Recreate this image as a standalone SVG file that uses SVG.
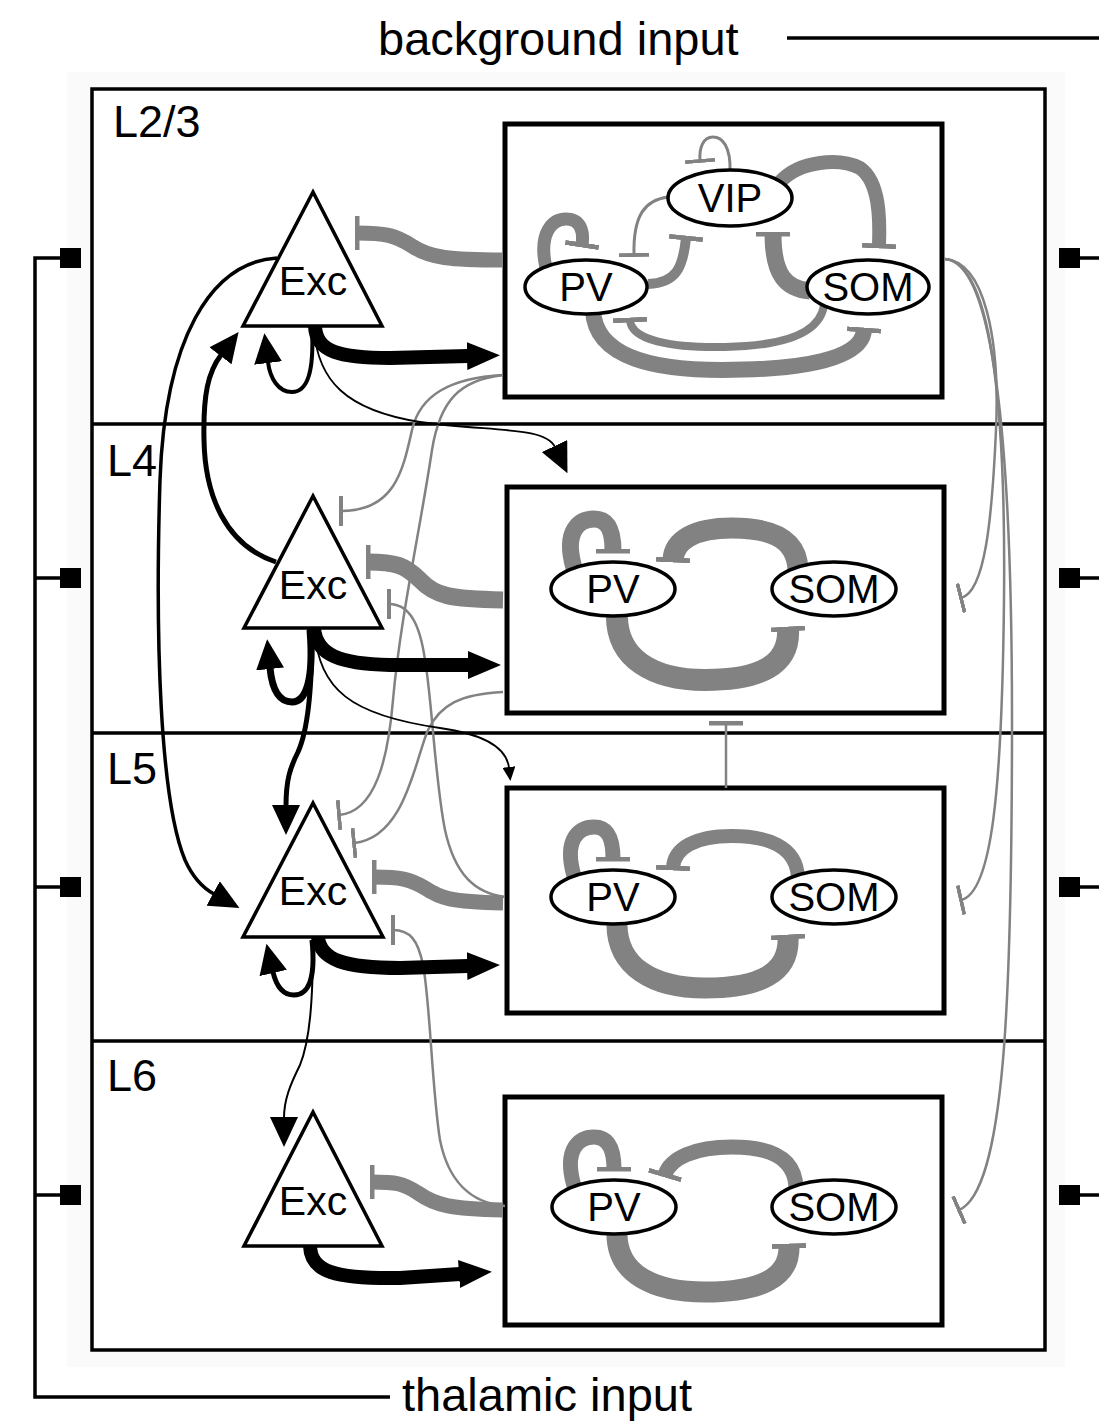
<svg xmlns="http://www.w3.org/2000/svg" width="1099" height="1423" viewBox="0 0 1099 1423">
  <style>
    .lbl{font-family:"Liberation Sans",Arial,sans-serif;fill:#000}
    .frame{fill:none;stroke:#000;stroke-width:3.5}
    .sheet{fill:#fff;stroke:#000;stroke-width:3.5}
    .box{fill:#fff;stroke:#000;stroke-width:5}
    .cell{fill:#fff;stroke:#000;stroke-width:3.5}
    .inh{fill:none;stroke:#828282}
    .exc{fill:none;stroke:#000}
    .pin{fill:#000}
  </style>
  <defs>
    <!-- excitatory arrowheads -->
    <marker id="ahL" markerUnits="userSpaceOnUse" viewBox="0 0 33 28" markerWidth="33" markerHeight="28" refX="1" refY="14" orient="auto">
      <path d="M0,0 L33,14 L0,28 z" fill="#000"/>
    </marker>
    <marker id="ahM" markerUnits="userSpaceOnUse" viewBox="0 0 30 28" markerWidth="30" markerHeight="28" refX="1" refY="14" orient="auto">
      <path d="M0,0 L30,14 L0,28 z" fill="#000"/>
    </marker>
    <marker id="ahS" markerUnits="userSpaceOnUse" viewBox="0 0 14 13" markerWidth="14" markerHeight="13" refX="1" refY="6.5" orient="auto">
      <path d="M0,0 L14,6.5 L0,13 z" fill="#000"/>
    </marker>
    <!-- inhibitory bar ends -->
    <marker id="tbL" markerUnits="userSpaceOnUse" viewBox="0 0 5 34" markerWidth="5" markerHeight="34" refX="2.5" refY="17" orient="auto">
      <rect x="0" y="0" width="5" height="34" fill="#828282"/>
    </marker>
    <marker id="tbS" markerUnits="userSpaceOnUse" viewBox="0 0 4 30" markerWidth="4" markerHeight="30" refX="2" refY="15" orient="auto">
      <rect x="0" y="0" width="4" height="30" fill="#828282"/>
    </marker>
  </defs>

  <rect x="0" y="0" width="1099" height="1423" fill="#fff"/>
  <rect x="67" y="72" width="998" height="1295" fill="#fafafa"/>

  <!-- external inputs -->
  <g id="background-input">
    <text class="lbl" x="378" y="55" font-size="47">background input</text>
    <path class="frame" d="M787 38 H1099"/>
    <path class="frame" d="M1080 258 H1099 M1080 578 H1099 M1080 887 H1099 M1080 1195 H1099"/>
    <rect class="pin" x="1059" y="248" width="21" height="20"/>
    <rect class="pin" x="1059" y="568" width="21" height="20"/>
    <rect class="pin" x="1059" y="877" width="21" height="20"/>
    <rect class="pin" x="1059" y="1185" width="21" height="20"/>
  </g>
  <g id="thalamic-input">
    <text class="lbl" x="402" y="1411" font-size="47">thalamic input</text>
    <path class="frame" d="M390 1397 H35 V258 H62 M35 578 H62 M35 887 H62 M35 1195 H62"/>
    <rect class="pin" x="60" y="248" width="21" height="20"/>
    <rect class="pin" x="60" y="568" width="21" height="20"/>
    <rect class="pin" x="60" y="877" width="21" height="20"/>
    <rect class="pin" x="60" y="1185" width="21" height="20"/>
  </g>

  <!-- column with four layers -->
  <g id="column">
    <rect class="sheet" x="92" y="89" width="953" height="1261"/>
    <path class="frame" d="M92 424 H1045 M92 733 H1045 M92 1041 H1045"/>
    <text class="lbl" x="113" y="137" font-size="45">L2/3</text>
    <text class="lbl" x="107" y="476" font-size="45">L4</text>
    <text class="lbl" x="107" y="784" font-size="45">L5</text>
    <text class="lbl" x="107" y="1091" font-size="45">L6</text>
  </g>

  <!-- inhibitory population boxes -->
  <g id="inh-L23"><rect class="box" x="505" y="124" width="437" height="273"/></g>
  <g id="inh-L4"><rect class="box" x="507" y="487" width="437" height="226"/></g>
  <g id="inh-L5"><rect class="box" x="507" y="788" width="437" height="225"/></g>
  <g id="inh-L6"><rect class="box" x="505" y="1097" width="437" height="228"/></g>

  <g id="connectors">
    <!-- L2/3 interneuron circuit -->
    <path class="inh" stroke-width="13" d="M546 268 C538 232 553 219 566 219 C581 219 584 232 582 245" marker-end="url(#tbL)"/>
    <path class="inh" stroke-width="10" d="M648 284 C676 283 683 268 686 238" marker-end="url(#tbL)"/>
    <path class="inh" stroke-width="3" d="M668 197 C645 200 633 215 634 255" marker-end="url(#tbS)"/>
    <path class="inh" stroke-width="3" d="M730 172 C731 146 722 137 713 137 C703 137 699 148 700 161" marker-end="url(#tbS)"/>
    <path class="inh" stroke-width="14" d="M780 182 C800 160 840 158 860 168 C880 182 880 220 879 246" marker-end="url(#tbL)"/>
    <path class="inh" stroke-width="17" d="M810 291 C786 289 773 275 773 234" marker-end="url(#tbL)"/>
    <path class="inh" stroke-width="16" d="M593 310 C595 360 660 370 722 370 C800 370 862 360 864 330" marker-end="url(#tbL)"/>
    <path class="inh" stroke-width="8" d="M824 305 C820 335 780 346 725 347 C670 348 631 340 630 320" marker-end="url(#tbL)"/>

    <!-- L4 interneuron circuit -->
    <path class="inh" stroke-width="17" d="M574 568 C563 530 580 519 594 519 C610 519 613 534 613 551" marker-end="url(#tbL)"/>
    <path class="inh" stroke-width="21" d="M798 570 C797 535 765 528 732 528 C695 528 674 540 673 560" marker-end="url(#tbL)"/>
    <path class="inh" stroke-width="22" d="M617 612 C615 660 655 680 705 680 C760 680 790 665 788 629" marker-end="url(#tbL)"/>

    <!-- L5 interneuron circuit -->
    <path class="inh" stroke-width="15" d="M574 876 C563 838 580 827 594 827 C610 827 613 842 613 859" marker-end="url(#tbL)"/>
    <path class="inh" stroke-width="14" d="M798 878 C797 845 765 836 732 836 C695 836 674 848 673 868" marker-end="url(#tbL)"/>
    <path class="inh" stroke-width="21" d="M617 920 C615 968 655 988 705 988 C760 988 790 973 788 937" marker-end="url(#tbL)"/>

    <!-- L6 interneuron circuit -->
    <path class="inh" stroke-width="15" d="M574 1186 C563 1148 580 1137 594 1137 C610 1137 614 1152 614 1169" marker-end="url(#tbL)"/>
    <path class="inh" stroke-width="15" d="M796 1188 C795 1155 765 1147 732 1147 C695 1147 670 1158 665 1175" marker-end="url(#tbL)"/>
    <path class="inh" stroke-width="21" d="M617 1230 C615 1275 655 1292 705 1292 C760 1292 790 1278 789 1246" marker-end="url(#tbL)"/>

    <!-- inhibition of excitatory cells within each layer -->
    <path class="inh" stroke-width="15" d="M503 260 C450 260 430 258 412 246 C395 235 385 233 357 233" marker-end="url(#tbL)"/>
    <path class="inh" stroke-width="17" d="M503 600 C450 599 435 596 420 580 C405 565 395 562 368 562" marker-end="url(#tbL)"/>
    <path class="inh" stroke-width="15" d="M503 903 C450 902 440 898 425 888 C410 879 400 877 374 877" marker-end="url(#tbL)"/>
    <path class="inh" stroke-width="15" d="M503 1210 C450 1209 435 1205 418 1193 C403 1183 395 1182 372 1182" marker-end="url(#tbL)"/>

    <!-- inhibition across layers -->
    <path class="inh" stroke-width="2.5" d="M503 375 C450 378 420 395 412 430 C403 470 395 511 341 511" marker-end="url(#tbS)"/>
    <path class="inh" stroke-width="2.5" d="M503 375 C460 380 440 400 432 450 C420 530 400 620 393 700 C388 760 375 812 339 815" marker-end="url(#tbS)"/>
    <path class="inh" stroke-width="2.5" d="M503 692 C460 694 440 705 428 730 C415 760 405 838 354 843" marker-end="url(#tbS)"/>
    <path class="inh" stroke-width="2.5" d="M505 897 C475 893 455 875 445 830 C435 780 432 700 425 660 C420 625 410 604 389 604" marker-end="url(#tbS)"/>
    <path class="inh" stroke-width="2.5" d="M505 1206 C470 1203 448 1180 440 1140 C432 1090 430 1000 423 965 C418 940 410 930 393 930" marker-end="url(#tbS)"/>
    <path class="inh" stroke-width="2.5" d="M726 788 V723" marker-end="url(#tbL)"/>
    <path class="inh" stroke-width="2.5" d="M945 259 C985 262 1000 340 996 430 C992 520 985 592 961 598" marker-end="url(#tbS)"/>
    <path class="inh" stroke-width="2.5" d="M945 259 C990 262 1006 400 1004 600 C1002 790 992 893 961 900" marker-end="url(#tbS)"/>
    <path class="inh" stroke-width="2.5" d="M945 259 C995 262 1012 450 1012 720 C1012 1000 1005 1190 959 1210" marker-end="url(#tbS)"/>

    <!-- excitatory drive onto inhibitory populations -->
    <path class="exc" stroke-width="14" d="M315 326 C316 352 340 358 390 358 L468 356" marker-end="url(#ahL)"/>
    <path class="exc" stroke-width="14" d="M314 628 C316 655 340 664 390 665 L469 665" marker-end="url(#ahL)"/>
    <path class="exc" stroke-width="14" d="M318 937 C320 960 345 968 400 968 L468 966" marker-end="url(#ahL)"/>
    <path class="exc" stroke-width="14" d="M310 1246 C311 1272 335 1279 400 1278 L460 1274" marker-end="url(#ahL)"/>

    <!-- recurrent excitation -->
    <path class="exc" stroke-width="4" d="M312 330 C314 370 308 392 292 392 C278 392 270 378 268 362" marker-end="url(#ahM)"/>
    <path class="exc" stroke-width="7" d="M310 630 C314 680 306 702 292 702 C278 702 272 688 270 668" marker-end="url(#ahM)"/>
    <path class="exc" stroke-width="5" d="M312 940 C316 980 308 995 294 995 C282 995 276 985 273 972" marker-end="url(#ahM)"/>

    <!-- excitation between layers -->
    <path class="exc" stroke-width="5" d="M276 562 C225 545 205 495 204 440 C203 395 208 372 221 355" marker-end="url(#ahM)"/>
    <path class="exc" stroke-width="3.5" d="M277 258 C210 262 165 340 160 480 C155 640 160 800 185 860 C193 878 203 888 214 894" marker-end="url(#ahM)"/>
    <path class="exc" stroke-width="5" d="M312 632 C312 690 308 730 298 752 C290 768 286 780 286 806" marker-end="url(#ahM)"/>
    <path class="exc" stroke-width="2" d="M313 940 C313 1000 310 1040 300 1065 C290 1085 284 1100 284 1118" marker-end="url(#ahM)"/>
    <path class="exc" stroke-width="1.8" d="M314 330 C318 380 345 410 420 422 C490 432 545 426 555 447" marker-end="url(#ahM)"/>
    <path class="exc" stroke-width="1.8" d="M314 630 C320 690 350 715 440 728 C490 735 507 750 509 768" marker-end="url(#ahS)"/>
  </g>

  <!-- interneuron populations -->
  <g id="pv-L23"><ellipse class="cell" cx="586" cy="287" rx="61" ry="27"/><text class="lbl" x="586" y="301" font-size="40" text-anchor="middle">PV</text></g>
  <g id="vip-L23"><ellipse class="cell" cx="730" cy="198" rx="62" ry="28"/><text class="lbl" x="730" y="212" font-size="40" text-anchor="middle">VIP</text></g>
  <g id="som-L23"><ellipse class="cell" cx="868" cy="287" rx="61" ry="27"/><text class="lbl" x="868" y="301" font-size="40" text-anchor="middle">SOM</text></g>

  <g id="pv-L4"><ellipse class="cell" cx="613" cy="589" rx="62" ry="27"/><text class="lbl" x="613" y="603" font-size="40" text-anchor="middle">PV</text></g>
  <g id="som-L4"><ellipse class="cell" cx="834" cy="589" rx="62" ry="27"/><text class="lbl" x="834" y="603" font-size="40" text-anchor="middle">SOM</text></g>

  <g id="pv-L5"><ellipse class="cell" cx="613" cy="897" rx="62" ry="27"/><text class="lbl" x="613" y="911" font-size="40" text-anchor="middle">PV</text></g>
  <g id="som-L5"><ellipse class="cell" cx="834" cy="897" rx="62" ry="27"/><text class="lbl" x="834" y="911" font-size="40" text-anchor="middle">SOM</text></g>

  <g id="pv-L6"><ellipse class="cell" cx="614" cy="1207" rx="62" ry="27"/><text class="lbl" x="614" y="1221" font-size="40" text-anchor="middle">PV</text></g>
  <g id="som-L6"><ellipse class="cell" cx="834" cy="1207" rx="62" ry="27"/><text class="lbl" x="834" y="1221" font-size="40" text-anchor="middle">SOM</text></g>

  <!-- excitatory populations -->
  <g id="exc-L23"><polygon class="cell" points="313,192 243,326 382,326"/><text class="lbl" x="313" y="295" font-size="41" text-anchor="middle">Exc</text></g>
  <g id="exc-L4"><polygon class="cell" points="313,496 244,628 382,628"/><text class="lbl" x="313" y="599" font-size="41" text-anchor="middle">Exc</text></g>
  <g id="exc-L5"><polygon class="cell" points="313,803 243,937 383,937"/><text class="lbl" x="313" y="905" font-size="41" text-anchor="middle">Exc</text></g>
  <g id="exc-L6"><polygon class="cell" points="313,1112 244,1246 382,1246"/><text class="lbl" x="313" y="1215" font-size="41" text-anchor="middle">Exc</text></g>
</svg>
